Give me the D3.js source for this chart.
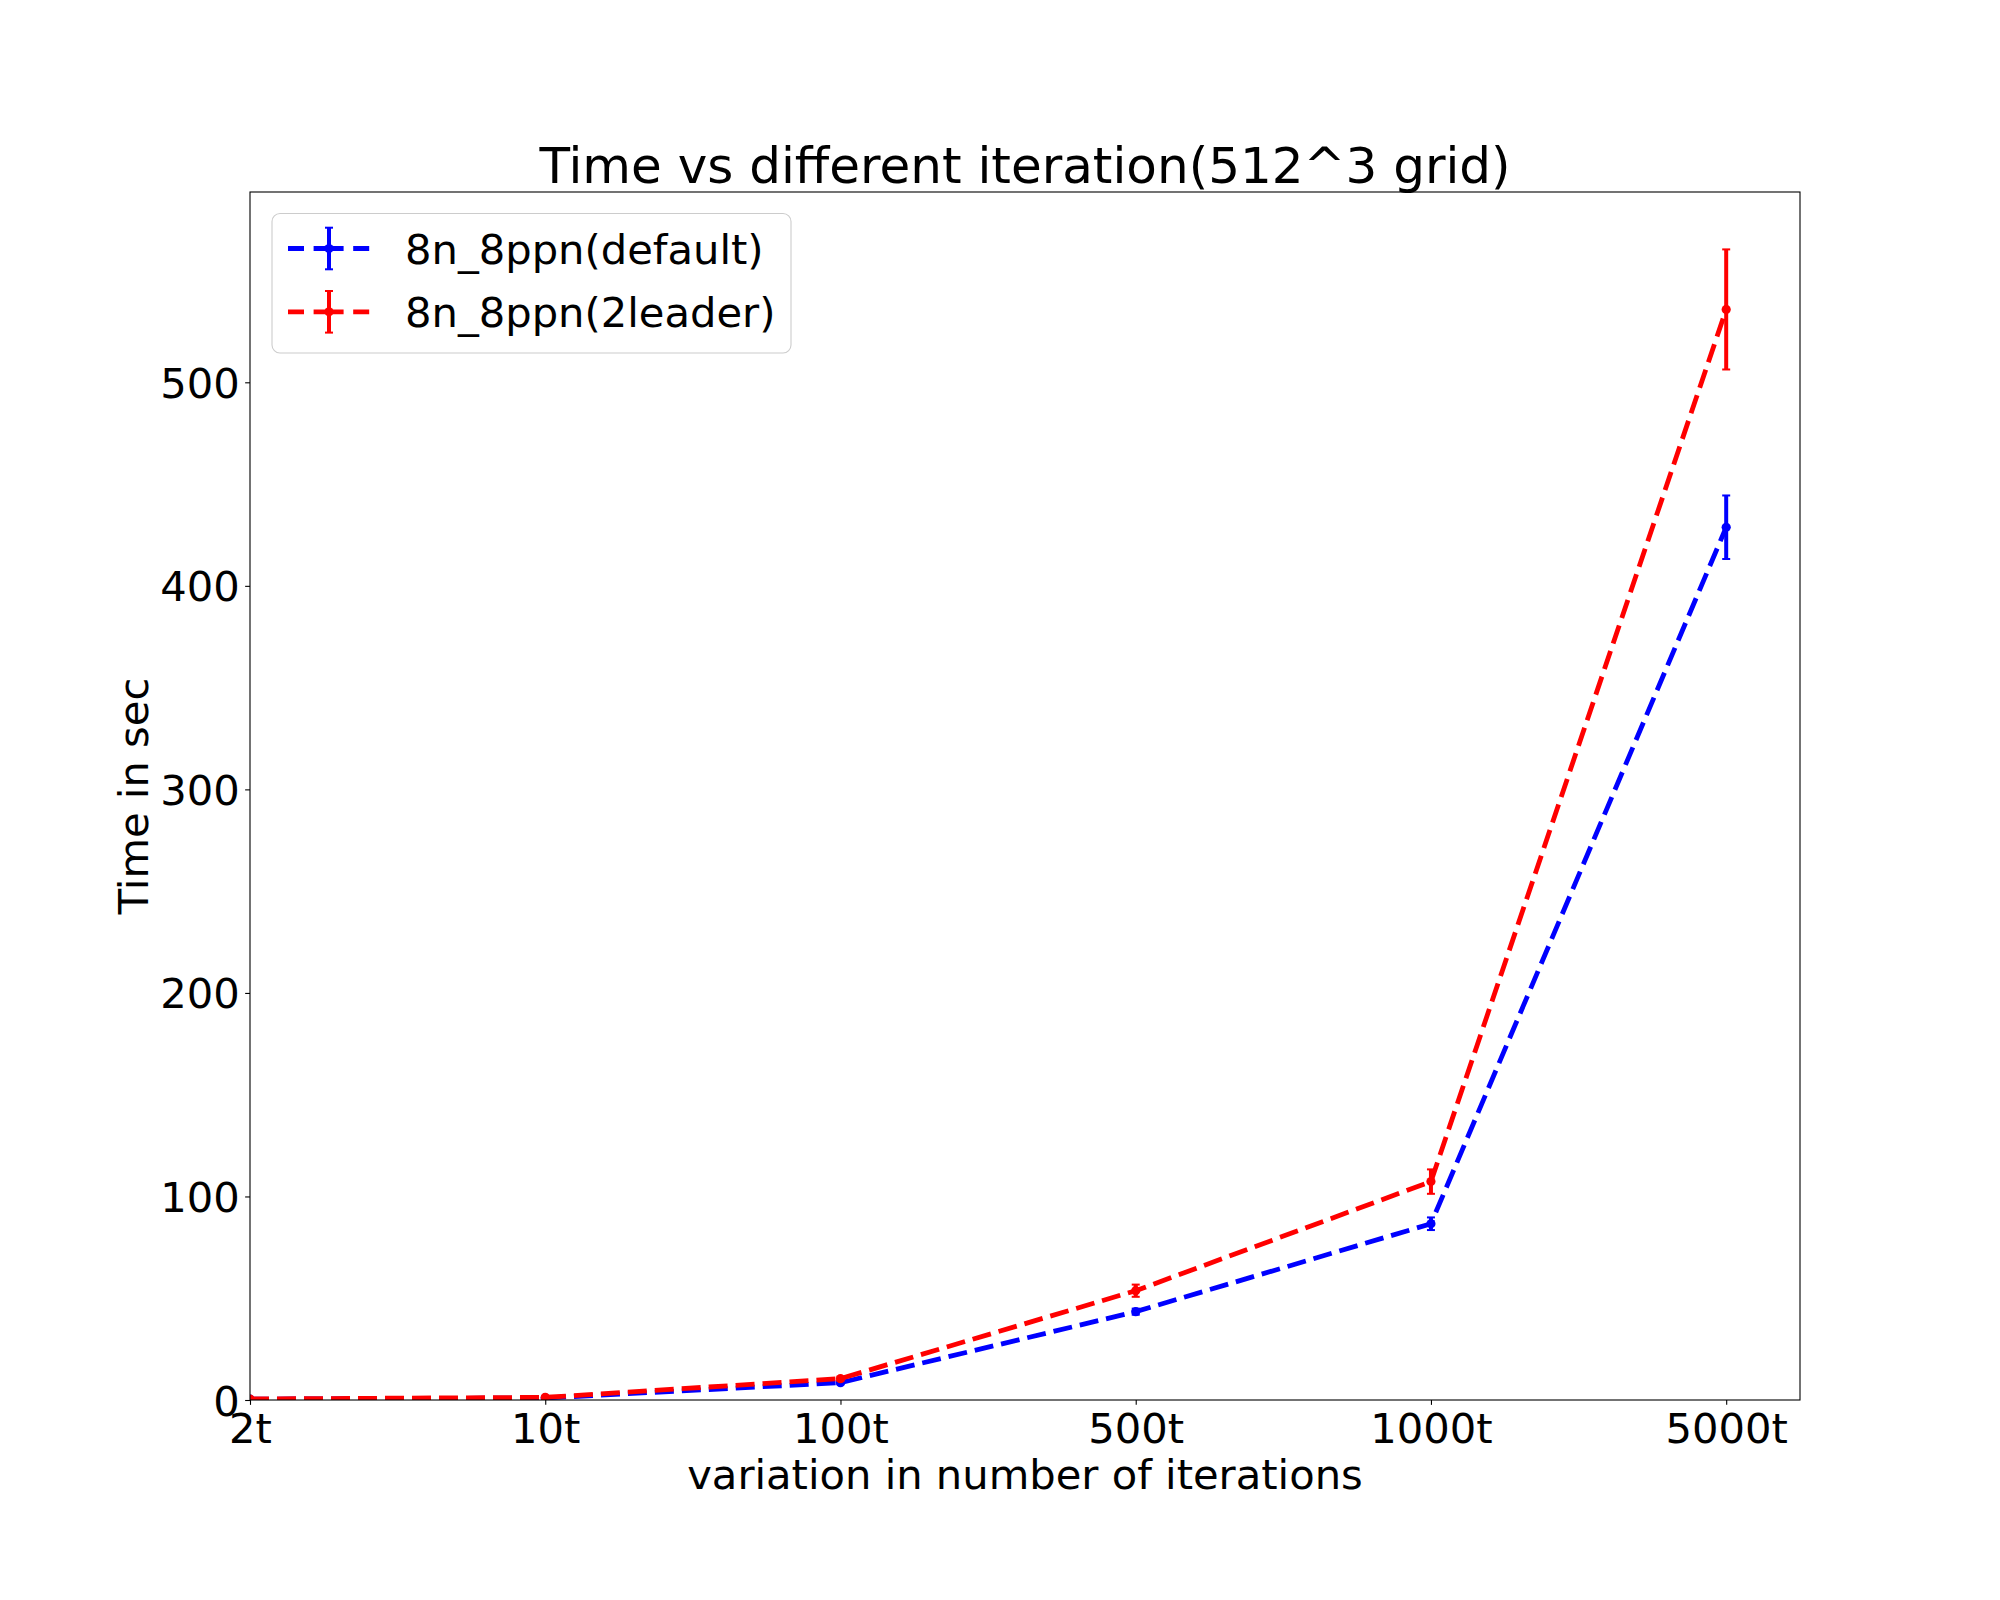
<!DOCTYPE html>
<html>
<head>
<meta charset="utf-8">
<script src="https://cdn.jsdelivr.net/npm/d3@7"></script>
<style>
  body { margin: 0; background: #fff; }
  text { font-family: "DejaVu Sans", sans-serif; fill: #000; }
</style>
</head>
<body>
<svg id="chart" width="2000" height="1600"></svg>
<script>
// values
const categories = ["2t", "10t", "100t", "500t", "1000t", "5000t"];
const defaultTimes = [0.4, 1.0, 8.5, 43.4, 86.6, 428.8];
const defaultErr = [0.1, 0.2, 0.8, 1.5, 3.1, 15.6];
const leaderTimes = [0.5, 1.3, 10.5, 53.7, 107.3, 535.8];
const leaderErr = [0.1, 0.2, 1.0, 3.0, 6.0, 29.5];
const yTicks = [0, 100, 200, 300, 400, 500];
const seriesNames = ["8n_8ppn(default)", "8n_8ppn(2leader)"];
const seriesColors = ["#0000ff", "#ff0000"];

const plotLeft = 250, plotRight = 1800, plotTop = 192, plotBottom = 1400;
const fs = 41.67;

const svg = d3.select("#chart");
svg.append("rect").attr("width", 2000).attr("height", 1600).attr("fill", "#fff");

const x = d3.scaleLinear().domain([0, 5.25]).range([plotLeft, plotRight]);
const y = d3.scaleLinear().domain([0, 593.5]).range([plotBottom, plotTop]);

svg.append("defs").append("clipPath").attr("id", "plot-clip")
  .append("rect")
  .attr("x", plotLeft).attr("y", plotTop)
  .attr("width", plotRight - plotLeft).attr("height", plotBottom - plotTop);

// axes
const xAxis = d3.axisBottom(x)
  .tickValues(d3.range(categories.length))
  .tickFormat(i => categories[i])
  .tickSize(4.86).tickPadding(6);
const gx = svg.append("g").attr("transform", `translate(0,${plotBottom})`).call(xAxis);
gx.select(".domain").remove();
gx.selectAll("line").attr("stroke", "#000").attr("stroke-width", 1.1);
gx.selectAll("text").attr("font-size", fs).attr("dy", "0.76em")
  .attr("font-family", "DejaVu Sans");

const yAxis = d3.axisLeft(y).tickValues(yTicks).tickSize(4.86).tickPadding(5.5);
const gy = svg.append("g").attr("transform", `translate(${plotLeft},0)`).call(yAxis);
gy.select(".domain").remove();
gy.selectAll("line").attr("stroke", "#000").attr("stroke-width", 1.1);
gy.selectAll("text").attr("font-size", fs).attr("dy", "0.36em")
  .attr("font-family", "DejaVu Sans");

const series = [
  { name: seriesNames[0], color: seriesColors[0], values: defaultTimes, err: defaultErr },
  { name: seriesNames[1], color: seriesColors[1], values: leaderTimes, err: leaderErr }
];

const plot = svg.append("g").attr("clip-path", "url(#plot-clip)");
const line = d3.line().x((d, i) => x(i)).y(d => y(d));

series.forEach(s => {
  const g = plot.append("g");
  g.append("path")
    .attr("d", line(s.values))
    .attr("fill", "none")
    .attr("stroke", s.color)
    .attr("stroke-width", 4.8)
    .attr("stroke-dasharray", "19,8");
  s.values.forEach((v, i) => {
    const lo = y(v - s.err[i]), hi = y(v + s.err[i]);
    g.append("line")
      .attr("x1", x(i)).attr("x2", x(i))
      .attr("y1", lo).attr("y2", hi)
      .attr("stroke", s.color).attr("stroke-width", 4);
    [lo, hi].forEach(cy => {
      g.append("line")
        .attr("x1", x(i) - 4).attr("x2", x(i) + 4)
        .attr("y1", cy).attr("y2", cy)
        .attr("stroke", s.color).attr("stroke-width", 2);
    });
    g.append("circle")
      .attr("cx", x(i)).attr("cy", y(v)).attr("r", 4.6)
      .attr("fill", s.color);
  });
});

// frame
svg.append("rect")
  .attr("x", plotLeft).attr("y", plotTop)
  .attr("width", plotRight - plotLeft).attr("height", plotBottom - plotTop)
  .attr("fill", "none").attr("stroke", "#000").attr("stroke-width", 1.1);

// labels
svg.append("text")
  .attr("x", (plotLeft + plotRight) / 2).attr("y", 183)
  .attr("text-anchor", "middle").attr("font-size", 50)
  .text("Time vs different iteration(512^3 grid)");

svg.append("text")
  .attr("x", (plotLeft + plotRight) / 2).attr("y", 1489)
  .attr("text-anchor", "middle").attr("font-size", fs)
  .text("variation in number of iterations");

svg.append("text")
  .attr("transform", `translate(148,${(plotTop + plotBottom) / 2}) rotate(-90)`)
  .attr("text-anchor", "middle").attr("font-size", fs)
  .text("Time in sec");

// legend
const legend = svg.append("g");
legend.append("rect")
  .attr("x", 272).attr("y", 213.5)
  .attr("width", 519).attr("height", 139.5)
  .attr("rx", 8).attr("ry", 8)
  .attr("fill", "#fff").attr("fill-opacity", 0.8)
  .attr("stroke", "#cccccc").attr("stroke-width", 1.1);

series.forEach((s, k) => {
  const cy = 248.5 + k * 63.3;
  const row = legend.append("g");
  row.append("line")
    .attr("x1", 288).attr("x2", 370)
    .attr("y1", cy).attr("y2", cy)
    .attr("stroke", s.color).attr("stroke-width", 4.8)
    .attr("stroke-dasharray", "16,9.6,30,9.6,16");
  row.append("line")
    .attr("x1", 329).attr("x2", 329)
    .attr("y1", cy - 20.8).attr("y2", cy + 20.8)
    .attr("stroke", s.color).attr("stroke-width", 4);
  [cy - 20.8, cy + 20.8].forEach(c => {
    row.append("line")
      .attr("x1", 325).attr("x2", 333)
      .attr("y1", c).attr("y2", c)
      .attr("stroke", s.color).attr("stroke-width", 2);
  });
  row.append("circle").attr("cx", 329).attr("cy", cy).attr("r", 4.6).attr("fill", s.color);
  row.append("text")
    .attr("x", 405).attr("y", cy + 15)
    .attr("font-size", fs)
    .text(s.name);
});
</script>
</body>
</html>
